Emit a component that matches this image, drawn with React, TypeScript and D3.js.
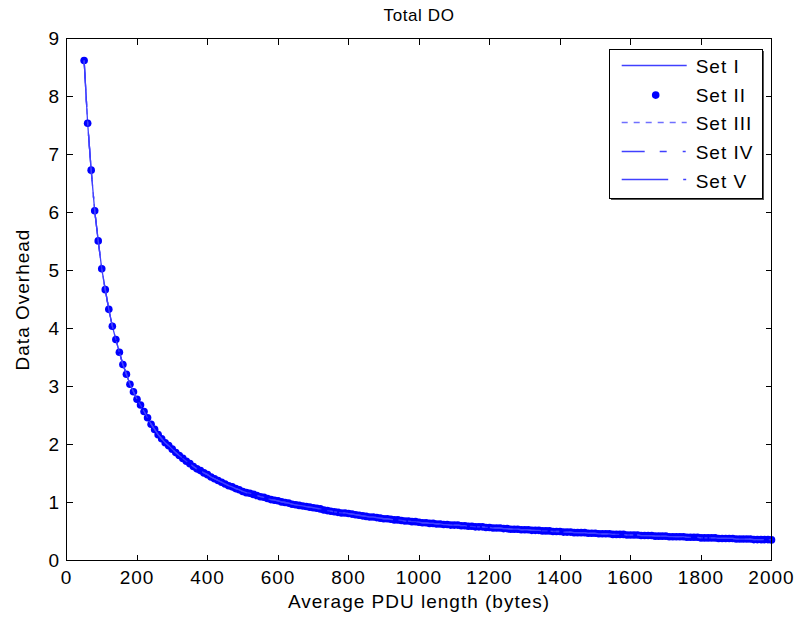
import React from "react";
import * as d3 from "d3";

const pduLength = [
  50,60,70,80,90,100,110,120,130,140,150,160,170,180,190,200,210,220,230,240,250,260,270,280,290,
  300,310,320,330,340,350,360,370,380,390,400,
  410,420,430,440,450,460,470,480,490,500,
  510,520,530,540,550,560,570,580,590,600,
  610,620,630,640,650,660,670,680,690,700,
  710,720,730,740,750,760,770,780,790,800,
  810,820,830,840,850,860,870,880,890,900,
  910,920,930,940,950,960,970,980,990,1000,
  1010,1020,1030,1040,1050,1060,1070,1080,1090,1100,
  1110,1120,1130,1140,1150,1160,1170,1180,1190,1200,
  1210,1220,1230,1240,1250,1260,1270,1280,1290,1300,
  1310,1320,1330,1340,1350,1360,1370,1380,1390,1400,
  1410,1420,1430,1440,1450,1460,1470,1480,1490,1500,
  1510,1520,1530,1540,1550,1560,1570,1580,1590,1600,
  1610,1620,1630,1640,1650,1660,1670,1680,1690,1700,
  1710,1720,1730,1740,1750,1760,1770,1780,1790,1800,
  1810,1820,1830,1840,1850,1860,1870,1880,1890,1900,
  1910,1920,1930,1940,1950,1960,1970,1980,1990,2000,
];

const overhead = [
  8.62,7.54,6.73,6.03,5.51,5.03,4.67,4.33,4.04,3.81,3.59,3.38,3.21,3.04,2.91,2.78,2.68,2.57,2.46,2.35,2.26,2.17,2.10,2.03,1.98,
  1.92,1.86,1.81,1.76,1.71,1.67,1.62,1.58,1.55,1.51,1.48,
  1.44,1.41,1.38,1.35,1.32,1.29,1.27,1.24,1.22,1.19,
  1.17,1.16,1.14,1.12,1.10,1.09,1.07,1.05,1.04,1.03,
  1.01,1.00,0.99,0.97,0.96,0.95,0.94,0.93,0.92,0.91,
  0.90,0.89,0.87,0.86,0.85,0.84,0.83,0.82,0.82,0.81,
  0.80,0.79,0.78,0.77,0.76,0.75,0.75,0.74,0.73,0.72,
  0.72,0.71,0.70,0.70,0.69,0.68,0.68,0.67,0.67,0.66,
  0.65,0.65,0.64,0.64,0.63,0.63,0.62,0.62,0.61,0.61,
  0.61,0.60,0.60,0.59,0.59,0.58,0.58,0.58,0.57,0.57,
  0.56,0.56,0.56,0.55,0.55,0.54,0.54,0.54,0.53,0.53,
  0.53,0.52,0.52,0.52,0.51,0.51,0.51,0.50,0.50,0.50,
  0.49,0.49,0.49,0.48,0.48,0.48,0.48,0.47,0.47,0.47,
  0.46,0.46,0.46,0.46,0.45,0.45,0.45,0.45,0.44,0.44,
  0.44,0.44,0.43,0.43,0.43,0.43,0.42,0.42,0.42,0.42,
  0.41,0.41,0.41,0.41,0.41,0.40,0.40,0.40,0.40,0.39,
  0.39,0.39,0.39,0.39,0.38,0.38,0.38,0.38,0.38,0.37,
  0.37,0.37,0.37,0.37,0.36,0.36,0.36,0.36,0.36,0.355,
];

const xTicks = [0,200,400,600,800,1000,1200,1400,1600,1800,2000];
const yTicks = [0,1,2,3,4,5,6,7,8,9];

const seriesNames = ["Set I", "Set II", "Set III", "Set IV", "Set V"];
const seriesValues = [overhead, overhead, overhead, overhead, overhead];

const BLUE = "#0000ff";
const LINE_BLUE = "#4040ff";
const FONT = "'Liberation Sans', Arial, Helvetica, sans-serif";

const styles = [
  { kind: "line", dash: undefined as string | undefined, opacity: 1 },
  { kind: "dot", dash: undefined, opacity: 1 },
  { kind: "line", dash: "6,6", opacity: 0.75 },
  { kind: "line", dash: "23,15,7,16,3,10", opacity: 1 },
  { kind: "line", dash: "46.5,15,3,10", opacity: 1 },
];

export default function App() {
  const left = 66.5, right = 771.5, top = 38.5, bottom = 560.5;
  const x = d3.scaleLinear().domain([0, 2000]).range([left, right]);
  const y = d3.scaleLinear().domain([0, 9]).range([bottom, top]);
  const tickLen = 6;
  const fs = 19;
  const ls = 1;

  const lineGen = d3
    .line<number>()
    .x((_, i) => x(pduLength[i]))
    .y((d) => y(d));

  const legX = 609.5, legY = 49.5, legW = 153, legH = 149;
  const rowY = (i: number) => 66.5 + i * 28.6;

  return (
    <svg
      width={797}
      height={617}
      style={{ position: "absolute", left: 0, top: 0, background: "#fff" }}
      fontFamily={FONT}
    >
      <rect x={0} y={0} width={797} height={617} fill="#fff" />
      {seriesValues.map((vals, si) =>
        styles[si].kind === "line" ? (
          <path
            key={si}
            d={lineGen(vals) || ""}
            fill="none"
            stroke={LINE_BLUE}
            strokeWidth={1.3}
            strokeOpacity={styles[si].opacity}
            strokeDasharray={styles[si].dash}
          />
        ) : (
          <g key={si} fill={BLUE}>
            {vals.map((v, i) => (
              <circle key={i} cx={x(pduLength[i])} cy={y(v)} r={3.8} />
            ))}
          </g>
        )
      )}
      <rect
        x={left}
        y={top}
        width={right - left}
        height={bottom - top}
        fill="none"
        stroke="#000"
        strokeWidth={1}
        shapeRendering="crispEdges"
      />
      {xTicks.map((t) => (
        <g key={"x" + t}>
          <line x1={x(t)} x2={x(t)} y1={bottom} y2={bottom - tickLen} stroke="#000" shapeRendering="crispEdges" />
          <line x1={x(t)} x2={x(t)} y1={top} y2={top + tickLen} stroke="#000" shapeRendering="crispEdges" />
          <text
            x={x(t)}
            y={583.5}
            textAnchor="middle"
            fontSize={fs}
            letterSpacing={ls}
            fill="#000"
          >
            {t}
          </text>
        </g>
      ))}
      {yTicks.map((t) => (
        <g key={"y" + t}>
          <line x1={left} x2={left + tickLen} y1={y(t)} y2={y(t)} stroke="#000" shapeRendering="crispEdges" />
          <line x1={right} x2={right - tickLen} y1={y(t)} y2={y(t)} stroke="#000" shapeRendering="crispEdges" />
          <text
            x={60}
            y={y(t) + 6.7}
            textAnchor="end"
            fontSize={fs}
            letterSpacing={ls}
            fill="#000"
          >
            {t}
          </text>
        </g>
      ))}
      <text x={419} y={21} textAnchor="middle" fontSize={17} letterSpacing={0.6} fill="#000">
        Total DO
      </text>
      <text x={419} y={608} textAnchor="middle" fontSize={fs} letterSpacing={ls} fill="#000">
        Average PDU length (bytes)
      </text>
      <text
        transform={`translate(28.5, ${(top + bottom) / 2}) rotate(-90)`}
        textAnchor="middle"
        fontSize={fs}
        letterSpacing={ls}
        fill="#000"
      >
        Data Overhead
      </text>
      <rect x={legX + 1.5} y={legY + 1.5} width={legW} height={legH} fill="#555" />
      <rect x={legX} y={legY} width={legW} height={legH} fill="#fff" stroke="#000" strokeWidth={1} shapeRendering="crispEdges" />
      {seriesNames.map((name, i) => (
        <g key={name}>
          {styles[i].kind === "line" ? (
            <line
              x1={621.7}
              x2={686.7}
              y1={Math.floor(rowY(i) - 1) + 0.5}
              y2={Math.floor(rowY(i) - 1) + 0.5}
              stroke={LINE_BLUE}
              strokeWidth={1.3}
              strokeOpacity={styles[i].opacity}
              strokeDasharray={styles[i].dash}
            />
          ) : (
            <circle cx={655.7} cy={rowY(i)} r={3.8} fill={BLUE} />
          )}
          <text x={695.7} y={rowY(i) + 6.7} fontSize={fs} letterSpacing={ls} fill="#000">
            {name}
          </text>
        </g>
      ))}
    </svg>
  );
}
